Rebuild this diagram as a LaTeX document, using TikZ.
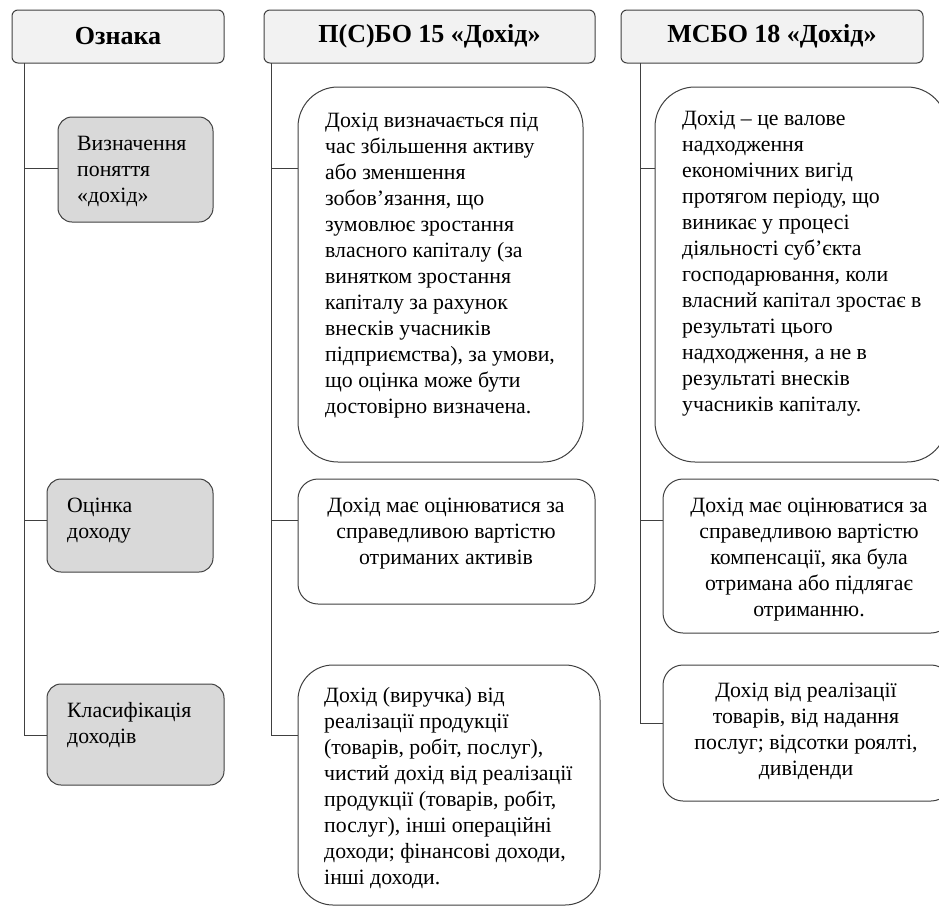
\documentclass[tikz,border=0pt]{standalone}
\usepackage{fontspec}
\setmainfont{Liberation Serif}
\definecolor{linec}{HTML}{404040}
\definecolor{hdrfill}{HTML}{F2F2F2}
\definecolor{grayfill}{HTML}{D9D9D9}
\begin{document}
\begin{tikzpicture}[x=1pt,y=-1pt,
  boxbase/.style={draw=linec, line width=1pt, anchor=north west, inner sep=0pt, outer sep=0pt},
  hdr/.style={boxbase, fill=hdrfill, rounded corners=6pt, font=\fontsize{26}{30}\selectfont\bfseries},
  graybox/.style={boxbase, fill=grayfill, rounded corners=14pt},
  whitebox/.style={boxbase, fill=white},
  txt/.style={anchor=base west, inner sep=0pt, font=\fontsize{21.8}{26}\selectfont},
  ctxt/.style={anchor=base, inner sep=0pt, font=\fontsize{21.8}{26}\selectfont},
  conn/.style={draw=linec, line width=1pt}
]
\useasboundingbox (0,0) rectangle (939,908);
\clip (0,0) rectangle (939,908);

% headers
\node[hdr, minimum width=212pt, minimum height=53pt] (h1) at (12,10) {Ознака};
\node[hdr, minimum width=331pt, minimum height=53pt] (h2) at (264,10) {П(С)БО 15 «Дохід»};
\node[hdr, minimum width=302pt, minimum height=53pt] (h3) at (621,10) {МСБО 18 «Дохід»};

% left column boxes
\node[graybox, minimum width=155pt, minimum height=105pt] (l1) at (58,117) {};
\node[graybox, minimum width=166pt, minimum height=93pt] (l2) at (47,479) {};
\node[graybox, minimum width=177pt, minimum height=101pt] (l3) at (47,684) {};

% middle column boxes
\node[whitebox, rounded corners=40pt, minimum width=285pt, minimum height=375pt] (m1) at (298,87) {};
\node[whitebox, rounded corners=20pt, minimum width=297pt, minimum height=125pt] (m2) at (298,479) {};
\node[whitebox, rounded corners=35pt, minimum width=302pt, minimum height=240pt] (m3) at (298,665) {};

% right column boxes
\node[whitebox, rounded corners=40pt, minimum width=292pt, minimum height=375pt] (r1) at (655,87) {};
\node[whitebox, rounded corners=20pt, minimum width=288pt, minimum height=154pt] (r2) at (663,479) {};
\node[whitebox, rounded corners=20pt, minimum width=288pt, minimum height=136pt] (r3) at (663,665) {};

% texts
\node[txt] (l1t) at (77,150) {\parbox[t]{150pt}{\raggedright Визначення\\поняття\\«дохід»}};
\node[txt] (l2t) at (67,512) {\parbox[t]{150pt}{\raggedright Оцінка\\доходу}};
\node[txt] (l3t) at (67,717) {\parbox[t]{160pt}{\raggedright Класифікація\\доходів}};

\node[txt] (m1t) at (325,127) {\parbox[t]{260pt}{\raggedright
Дохід визначається під\\
час збільшення активу\\
або зменшення\\
зобов’язання, що\\
зумовлює зростання\\
власного капіталу (за\\
винятком зростання\\
капіталу за рахунок\\
внесків учасників\\
підприємства), за умови,\\
що оцінка може бути\\
достовірно визначена.}};

\node[ctxt] (m2t) at (446,512) {\parbox[t]{290pt}{\centering
Дохід має оцінюватися за\\
справедливою вартістю\\
отриманих активів}};

\node[txt] (m3t) at (324,702) {\parbox[t]{275pt}{\raggedright
Дохід (виручка) від\\
реалізації продукції\\
(товарів, робіт, послуг),\\
чистий дохід від реалізації\\
продукції (товарів, робіт,\\
послуг), інші операційні\\
доходи; фінансові доходи,\\
інші доходи.}};

\node[txt] (r1t) at (682,125) {\parbox[t]{260pt}{\raggedright
Дохід – це валове\\
надходження\\
економічних вигід\\
протягом періоду, що\\
виникає у процесі\\
діяльності суб’єкта\\
господарювання, коли\\
власний капітал зростає в\\
результаті цього\\
надходження, а не в\\
результаті внесків\\
учасників капіталу.}};

\node[ctxt] (r2t) at (809,512) {\parbox[t]{280pt}{\centering
Дохід має оцінюватися за\\
справедливою вартістю\\
компенсації, яка була\\
отримана або підлягає\\
отриманню.}};

\node[ctxt] (r3t) at (806,697) {\parbox[t]{280pt}{\centering
Дохід від реалізації\\
товарів, від надання\\
послуг; відсотки роялті,\\
дивіденди}};

% connectors
\draw[conn] ([xshift=12pt]h1.south west) |- ([yshift=-51pt]l1.north west);
\draw[conn] ([xshift=12pt]h1.south west) |- ([yshift=-41pt]l2.north west);
\draw[conn] ([xshift=12pt]h1.south west) |- ([yshift=-51pt]l3.north west);

\draw[conn] ([xshift=7pt]h2.south west) |- ([yshift=-81pt]m1.north west);
\draw[conn] ([xshift=7pt]h2.south west) |- ([yshift=-41pt]m2.north west);
\draw[conn] ([xshift=7pt]h2.south west) |- ([yshift=-70pt]m3.north west);

\draw[conn] ([xshift=19pt]h3.south west) |- ([yshift=-81pt]r1.north west);
\draw[conn] ([xshift=19pt]h3.south west) |- ([yshift=-41pt]r2.north west);
\draw[conn] ([xshift=19pt]h3.south west) |- ([yshift=-58pt]r3.north west);
\end{tikzpicture}
\end{document}
